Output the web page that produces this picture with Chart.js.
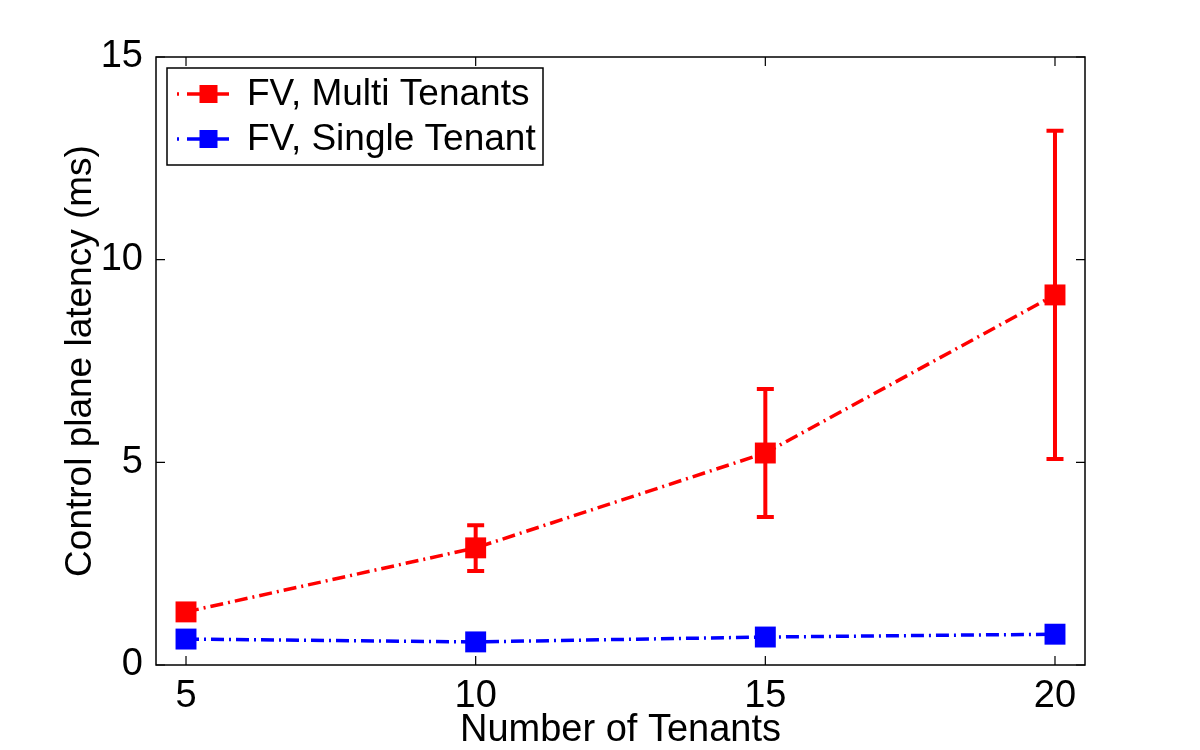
<!DOCTYPE html>
<html>
<head>
<meta charset="utf-8">
<script src="https://cdn.jsdelivr.net/npm/chart.js@4"></script>
<style>
  html, body { margin: 0; background: #fff; }
  #wrap { width: 1200px; height: 750px; }
</style>
</head>
<body>
<div id="wrap"><canvas id="chart"></canvas></div>
<script>
// values
const tenants = [5, 10, 15, 20];
const multiMean = [1.31, 2.89, 5.23, 9.13];
const multiLow = [1.31, 2.32, 3.65, 5.08];
const multiHigh = [1.31, 3.45, 6.81, 13.18];
const singleMean = [0.64, 0.57, 0.69, 0.76];
const singleLow = [0.64, 0.57, 0.69, 0.70];
const singleHigh = [0.64, 0.57, 0.69, 0.82];
const xTicks = [5, 10, 15, 20];
const yTicks = [0, 5, 10, 15];
const seriesNames = ['FV, Multi Tenants', 'FV, Single Tenant'];

const FONT = '"Liberation Sans", Arial, Helvetica, sans-serif';
const dashDot = [13, 5, 2, 5];

const toPoints = (ys) => tenants.map((x, i) => ({ x: x, y: ys[i] }));

// black box round the axes, with inward ticks on all four sides
const framePlugin = {
  id: 'frame',
  afterDraw(chart) {
    const { ctx, chartArea: a, scales } = chart;
    ctx.save();
    ctx.strokeStyle = '#000';
    ctx.lineWidth = 1.5;
    ctx.strokeRect(a.left, a.top, a.right - a.left, a.bottom - a.top);
    ctx.lineWidth = 1.2;
    ctx.beginPath();
    xTicks.forEach((v) => {
      const px = scales.x.getPixelForValue(v);
      ctx.moveTo(px, a.bottom); ctx.lineTo(px, a.bottom - 9);
      ctx.moveTo(px, a.top); ctx.lineTo(px, a.top + 9);
    });
    yTicks.forEach((v) => {
      const py = scales.y.getPixelForValue(v);
      ctx.moveTo(a.left, py); ctx.lineTo(a.left + 9, py);
      ctx.moveTo(a.right, py); ctx.lineTo(a.right - 9, py);
    });
    ctx.stroke();
    ctx.restore();
  }
};

// vertical error bars with caps
const errorBarPlugin = {
  id: 'errorBars',
  beforeDatasetsDraw(chart) {
    const { ctx, scales } = chart;
    ctx.save();
    chart.data.datasets.forEach((ds) => {
      ctx.strokeStyle = ds.borderColor;
      ctx.lineWidth = 4;
      ds.data.forEach((p, i) => {
        const x = scales.x.getPixelForValue(p.x);
        const yLo = scales.y.getPixelForValue(ds.errLow[i]);
        const yHi = scales.y.getPixelForValue(ds.errHigh[i]);
        if (Math.abs(yLo - yHi) < 1) return;
        ctx.beginPath();
        ctx.moveTo(x, yLo); ctx.lineTo(x, yHi);
        ctx.moveTo(x - 8.5, yLo); ctx.lineTo(x + 8.5, yLo);
        ctx.moveTo(x - 8.5, yHi); ctx.lineTo(x + 8.5, yHi);
        ctx.stroke();
      });
    });
    ctx.restore();
  }
};

// boxed legend in the upper left corner
const legendPlugin = {
  id: 'boxLegend',
  afterDraw(chart) {
    const { ctx, chartArea: a } = chart;
    const bx = a.left + 11, by = a.top + 11, bw = 376, bh = 97;
    ctx.save();
    ctx.fillStyle = '#fff';
    ctx.fillRect(bx, by, bw, bh);
    ctx.strokeStyle = '#000';
    ctx.lineWidth = 1.5;
    ctx.strokeRect(bx, by, bw, bh);
    chart.data.datasets.forEach((ds, i) => {
      const cy = by + 26 + i * 45;
      ctx.strokeStyle = ds.borderColor;
      ctx.lineWidth = 3.5;
      ctx.setLineDash([2, 8, 42]);
      ctx.beginPath();
      ctx.moveTo(bx + 10, cy); ctx.lineTo(bx + 63, cy);
      ctx.stroke();
      ctx.setLineDash([]);
      ctx.fillStyle = ds.backgroundColor;
      ctx.fillRect(bx + 41 - 8.5, cy - 9, 18, 18);
      ctx.fillStyle = '#000';
      ctx.font = '37px ' + FONT;
      ctx.textBaseline = 'middle';
      ctx.fillText(ds.label, bx + 80, cy + 1);
    });
    ctx.restore();
  }
};

new Chart(document.getElementById('chart'), {
  type: 'line',
  data: {
    datasets: [
      {
        label: seriesNames[0],
        data: toPoints(multiMean),
        errLow: multiLow,
        errHigh: multiHigh,
        borderColor: '#ff0000',
        backgroundColor: '#ff0000',
        borderWidth: 3.5,
        borderDash: dashDot,
        pointStyle: 'rect',
        pointRadius: 14.8,
        pointBorderWidth: 0,
        tension: 0
      },
      {
        label: seriesNames[1],
        data: toPoints(singleMean),
        errLow: singleLow,
        errHigh: singleHigh,
        borderColor: '#0000ff',
        backgroundColor: '#0000ff',
        borderWidth: 3.5,
        borderDash: dashDot,
        pointStyle: 'rect',
        pointRadius: 14.8,
        pointBorderWidth: 0,
        tension: 0
      }
    ]
  },
  options: {
    responsive: true,
    maintainAspectRatio: false,
    animation: false,
    layout: { padding: { left: 0, right: 115, top: 57, bottom: 0 } },
    plugins: {
      legend: { display: false },
      tooltip: { enabled: false }
    },
    scales: {
      x: {
        type: 'linear',
        min: 4.482,
        max: 20.518,
        grid: { display: false },
        border: { display: false },
        afterBuildTicks: (s) => { s.ticks = xTicks.map((v) => ({ value: v })); },
        afterFit: (s) => { s.height = 85; },
        ticks: { color: '#000', padding: 1, font: { family: FONT, size: 38 } },
        title: {
          display: true,
          text: 'Number of Tenants',
          color: '#000',
          font: { family: FONT, size: 38, lineHeight: 1 },
          padding: { top: 0, bottom: 0 }
        }
      },
      y: {
        type: 'linear',
        min: 0,
        max: 15,
        grid: { display: false },
        border: { display: false },
        afterBuildTicks: (s) => { s.ticks = yTicks.map((v) => ({ value: v })); },
        afterFit: (s) => { s.width = 156; },
        ticks: { color: '#000', padding: 5, font: { family: FONT, size: 38 } },
        title: {
          display: true,
          text: 'Control plane latency (ms)',
          color: '#000',
          font: { family: FONT, size: 37, lineHeight: 1 },
          padding: { top: 62, bottom: 0 }
        }
      }
    }
  },
  plugins: [framePlugin, errorBarPlugin, legendPlugin]
});
</script>
</body>
</html>
